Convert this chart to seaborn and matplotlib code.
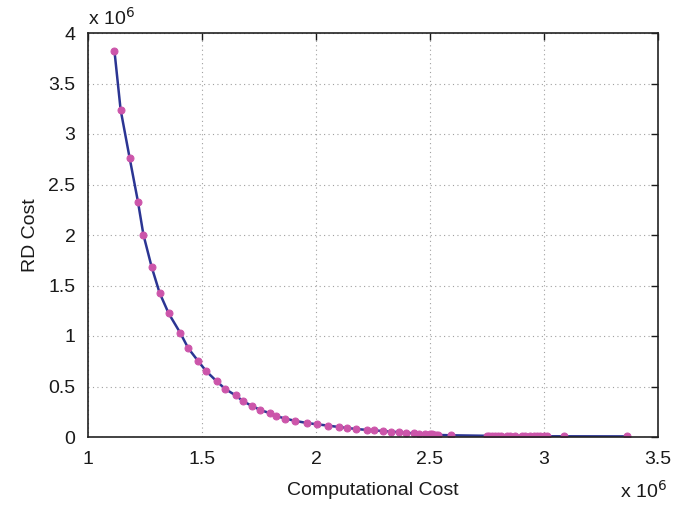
import numpy as np
import pandas as pd
import matplotlib
matplotlib.use("Agg")
import matplotlib.pyplot as plt
import seaborn as sns

# values, both axes in units of 10^6
comp_cost = [1.116, 1.143, 1.183, 1.219, 1.243, 1.279, 1.314, 1.354, 1.404, 1.440,
             1.483, 1.519, 1.564, 1.601, 1.648, 1.679, 1.718, 1.756, 1.798, 1.823,
             1.864, 1.910, 1.959, 2.003, 2.052, 2.100, 2.138, 2.177, 2.224, 2.256,
             2.296, 2.328, 2.364, 2.396, 2.428, 2.453, 2.478, 2.500, 2.510, 2.518,
             2.528, 2.537, 2.594, 2.748, 2.760, 2.772, 2.785, 2.798, 2.812, 2.836,
             2.852, 2.872, 2.902, 2.918, 2.940, 2.955, 2.968, 2.982, 2.998, 3.015,
             3.087, 3.364]
rd_cost = [3.823, 3.241, 2.758, 2.331, 2.003, 1.685, 1.427, 1.223, 1.033, 0.878,
           0.752, 0.650, 0.553, 0.477, 0.411, 0.357, 0.308, 0.268, 0.235, 0.209,
           0.183, 0.159, 0.139, 0.126, 0.113, 0.099, 0.089, 0.079, 0.070, 0.067,
           0.057, 0.054, 0.047, 0.041, 0.037, 0.034, 0.030, 0.027, 0.025, 0.024,
           0.022, 0.020, 0.017, 0.012, 0.011, 0.011, 0.010, 0.010, 0.010, 0.009,
           0.009, 0.009, 0.008, 0.008, 0.008, 0.008, 0.008, 0.008, 0.007, 0.007,
           0.007, 0.006]

x_ticks = [1, 1.5, 2, 2.5, 3, 3.5]
x_ticklabels = ["1", "1.5", "2", "2.5", "3", "3.5"]
y_ticks = [0, 0.5, 1, 1.5, 2, 2.5, 3, 3.5, 4]
y_ticklabels = ["0", "0.5", "1", "1.5", "2", "2.5", "3", "3.5", "4"]

df = pd.DataFrame({"comp": comp_cost, "rd": rd_cost})

sns.set_style("white")
plt.rcParams['font.family'] = ['Liberation Sans', 'DejaVu Sans']
fs = 14

fig = plt.figure(figsize=(6.92, 5.07), dpi=100)
ax = fig.add_axes([88 / 692, 1 - 437 / 507, (658 - 88) / 692, (437 - 33) / 507])

sns.lineplot(data=df, x="comp", y="rd", ax=ax, sort=False,
             color="#2B3593", linewidth=1.8,
             marker="o", markersize=5,
             markerfacecolor="#CC55AA", markeredgecolor="#CC55AA")

ax.set_xlim(1, 3.5)
ax.set_ylim(0, 4)
ax.set_xticks(x_ticks)
ax.set_xticklabels(x_ticklabels)
ax.set_yticks(y_ticks)
ax.set_yticklabels(y_ticklabels)

ax.grid(True, linestyle=(0, (1, 3)), color="#A0A0A0", linewidth=0.8)
ax.tick_params(direction="in", length=5, width=1, top=True, right=True,
               labelsize=fs, colors="#1A1A1A")
ax.tick_params(axis="x", pad=10)
ax.tick_params(axis="y", pad=9)
for s in ax.spines.values():
    s.set_color("#222222")
    s.set_linewidth(1.2)
    s.set_visible(True)

ax.set_xlabel("Computational Cost", fontsize=fs, labelpad=10, color="#1A1A1A")
ax.set_ylabel("RD Cost", fontsize=fs, labelpad=7, color="#1A1A1A")

ax.text(0.0, 1.01, "x 10$^{6}$", transform=ax.transAxes, fontsize=fs,
        ha="left", va="bottom", color="#1A1A1A")
ax.text(1.015, -0.105, "x 10$^{6}$", transform=ax.transAxes, fontsize=fs,
        ha="right", va="top", color="#1A1A1A")

fig.savefig("out.png", dpi=100)
